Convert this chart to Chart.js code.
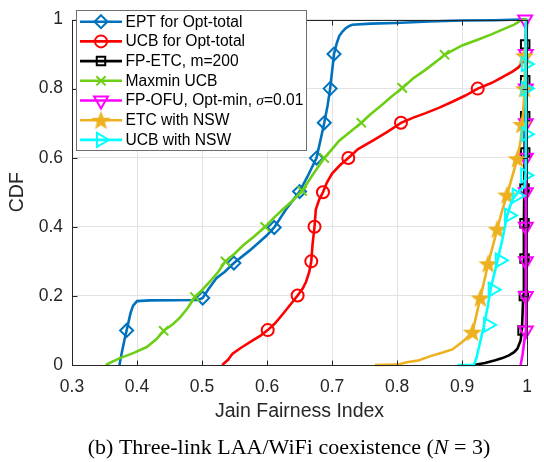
<!DOCTYPE html>
<html><head><meta charset="utf-8">
<script src="https://cdn.jsdelivr.net/npm/chart.js@4.4.0/dist/chart.umd.min.js"></script>
<style>html,body{margin:0;padding:0;background:#fff}#wrap{width:544px;height:462px;position:relative}</style>
</head><body><div id="wrap"><canvas id="c" width="544" height="462"></canvas></div>
<script>
// ---------- data ----------
const xTicks = [0.3, 0.4, 0.5, 0.6, 0.7, 0.8, 0.9, 1];
const yTicks = [0, 0.2, 0.4, 0.6, 0.8, 1];
const seriesNames = ['EPT for Opt-total', 'UCB for Opt-total', 'FP-ETC, m=200', 'Maxmin UCB',
  'FP-OFU, Opt-min, σ=0.01', 'ETC with NSW', 'UCB with NSW'];

const eptX = [0.373,0.377,0.381,0.384,0.387,0.390,0.394,0.400,0.420,0.494,0.501,0.510,0.522,0.535,0.549,0.573,0.599,0.611,0.629,0.650,0.662,0.676,0.683,0.688,0.693,0.697,0.700,0.703,0.707,0.711,0.716,0.721,0.726,0.731,0.760,0.798,0.849,0.900,0.950,0.990,1.000];
const eptY = [0.000,0.040,0.075,0.100,0.125,0.150,0.172,0.185,0.187,0.188,0.194,0.220,0.251,0.270,0.295,0.331,0.374,0.398,0.450,0.502,0.545,0.599,0.658,0.701,0.750,0.800,0.850,0.900,0.930,0.952,0.965,0.975,0.981,0.985,0.988,0.990,0.994,0.997,0.998,1.000,1.000];
const eptMX = [0.384,0.501,0.549,0.611,0.650,0.676,0.688,0.697,0.703];
const eptMY = [0.100,0.194,0.295,0.398,0.502,0.599,0.701,0.800,0.900];

const ucbX = [0.531,0.540,0.547,0.560,0.578,0.590,0.601,0.612,0.624,0.636,0.647,0.655,0.660,0.665,0.668,0.670,0.673,0.675,0.680,0.686,0.692,0.700,0.712,0.725,0.740,0.762,0.785,0.806,0.825,0.844,0.865,0.885,0.905,0.924,0.945,0.962,0.978,0.987,0.993,0.997,0.999,1.000];
const ucbY = [0.000,0.015,0.033,0.050,0.071,0.085,0.101,0.120,0.147,0.175,0.201,0.222,0.241,0.270,0.300,0.350,0.400,0.450,0.478,0.500,0.528,0.554,0.578,0.599,0.625,0.649,0.675,0.701,0.716,0.729,0.745,0.762,0.780,0.800,0.816,0.833,0.850,0.862,0.876,0.890,0.950,1.000];
const ucbMX = [0.601,0.647,0.668,0.673,0.686,0.725,0.806,0.924];
const ucbMY = [0.101,0.201,0.300,0.400,0.500,0.599,0.701,0.800];

const fpetcX = [0.918,0.935,0.951,0.962,0.972,0.980,0.985,0.990,0.992,0.994,0.995,0.996,0.997,0.998,1.000];
const fpetcY = [0.000,0.006,0.014,0.020,0.028,0.037,0.047,0.071,0.100,0.200,0.400,0.600,0.800,0.950,1.000];
const fpetcMX = [0.993,0.995,0.996,0.996,0.996,0.997,0.997,0.997,0.997];
const fpetcMY = [0.100,0.200,0.308,0.410,0.511,0.615,0.720,0.824,0.928];

const maxminX = [0.352,0.362,0.374,0.395,0.415,0.430,0.441,0.455,0.466,0.478,0.489,0.499,0.512,0.525,0.536,0.550,0.563,0.580,0.597,0.610,0.624,0.640,0.654,0.670,0.688,0.700,0.711,0.728,0.745,0.760,0.777,0.792,0.808,0.825,0.844,0.860,0.873,0.900,0.926,0.945,0.961,0.980,0.992,1.000];
const maxminY = [0.000,0.010,0.020,0.035,0.052,0.075,0.099,0.118,0.137,0.165,0.197,0.215,0.241,0.270,0.300,0.322,0.346,0.372,0.400,0.425,0.450,0.477,0.504,0.550,0.599,0.625,0.649,0.675,0.701,0.727,0.753,0.778,0.802,0.830,0.855,0.878,0.898,0.925,0.943,0.957,0.970,0.985,0.999,1.000];
const maxminMX = [0.441,0.489,0.536,0.597,0.654,0.688,0.745,0.808,0.873];
const maxminMY = [0.099,0.197,0.300,0.400,0.504,0.599,0.701,0.802,0.898];

const fpofuX = [0.990,0.993,0.995,0.997,0.998,0.998,1.000];
const fpofuY = [0.000,0.030,0.060,0.090,0.150,0.990,1.000];
const fpofuMX = [0.998,0.998,0.998,0.998,0.998,0.998,0.998,0.998,0.998,0.997];
const fpofuMY = [0.100,0.200,0.300,0.400,0.500,0.600,0.700,0.800,0.900,1.000];

const etcX = [0.766,0.800,0.815,0.834,0.850,0.870,0.885,0.903,0.916,0.922,0.928,0.934,0.940,0.947,0.954,0.961,0.969,0.977,0.985,0.990,0.993,0.996,0.997,0.999];
const etcY = [0.000,0.001,0.008,0.014,0.025,0.036,0.045,0.071,0.095,0.145,0.194,0.243,0.293,0.343,0.393,0.443,0.492,0.545,0.597,0.650,0.700,0.800,0.900,1.000];
const etcMX = [0.916,0.928,0.940,0.954,0.969,0.985,0.992,0.996,0.996];
const etcMY = [0.095,0.194,0.293,0.393,0.492,0.597,0.696,0.800,0.895];

const ucbnX = [0.893,0.918,0.922,0.926,0.933,0.939,0.944,0.949,0.954,0.962,0.969,0.977,0.984,0.990,0.996,0.998,0.998,1.000];
const ucbnY = [0.000,0.000,0.020,0.052,0.109,0.166,0.222,0.260,0.298,0.364,0.431,0.478,0.495,0.507,0.516,0.560,0.990,1.000];
const ucbnMX = [0.940,0.947,0.958,0.972,0.984,0.997,0.998,0.998,0.998];
const ucbnMY = [0.116,0.218,0.303,0.433,0.490,0.549,0.668,0.800,0.871];

// ---------- styling ----------
const SANS = '"Liberation Sans", Arial, Helvetica, sans-serif';
const SERIF = '"Liberation Serif", "Times New Roman", serif';
const AX = '#262626';

function makeStar(color, R) {
  const s = Math.ceil(R * 2 + 4);
  const c = document.createElement('canvas'); c.width = s; c.height = s;
  const g = c.getContext('2d');
  g.translate(s / 2, s / 2 + 0.8);
  g.beginPath();
  for (let k = 0; k < 10; k++) {
    const r = k % 2 ? R * 0.42 : R;
    const a = -Math.PI / 2 + k * Math.PI / 5;
    g.lineTo(r * Math.cos(a), r * Math.sin(a));
  }
  g.closePath(); g.fillStyle = color; g.fill();
  g.strokeStyle = color; g.lineWidth = 1.2; g.stroke();
  return c;
}
const starImg = makeStar('#EDB120', 8.5);

const series = [
  {x: eptX, y: eptY, mx: eptMX, my: eptMY, color: '#0072BD', style: 'rectRot', r: 6.5, rot: 0},
  {x: ucbX, y: ucbY, mx: ucbMX, my: ucbMY, color: '#FF0000', style: 'circle', r: 6, rot: 0},
  {x: fpetcX, y: fpetcY, mx: fpetcMX, my: fpetcMY, color: '#000000', style: 'rect', r: 6, rot: 0},
  {x: maxminX, y: maxminY, mx: maxminMX, my: maxminMY, color: '#6CCF16', style: 'crossRot', r: 6.5, rot: 0},
  {x: fpofuX, y: fpofuY, mx: fpofuMX, my: fpofuMY, color: '#FF00FF', style: 'triangle', r: 8, rot: 180},
  {x: etcX, y: etcY, mx: etcMX, my: etcMY, color: '#EDB120', style: starImg, r: 8, rot: 0},
  {x: ucbnX, y: ucbnY, mx: ucbnMX, my: ucbnMY, color: '#00FFFF', style: 'triangle', r: 8, rot: 90}
];

const datasets = [];
series.forEach((s, i) => {
  datasets.push({
    label: seriesNames[i],
    data: s.x.map((v, k) => ({x: v, y: s.y[k]})),
    showLine: true, borderColor: s.color, borderWidth: 2.6,
    pointRadius: 0, pointHoverRadius: 0, fill: false, tension: 0,
    order: 100 - 2 * i, clip: false
  });
  datasets.push({
    label: seriesNames[i] + ' markers',
    data: s.mx.map((v, k) => ({x: v, y: s.my[k]})),
    showLine: false, pointStyle: s.style, pointRadius: s.r, pointHoverRadius: s.r,
    pointRotation: s.rot, pointBorderColor: s.color, pointBackgroundColor: 'rgba(0,0,0,0)',
    pointBorderWidth: 2, order: 100 - 2 * i - 1, clip: false
  });
});

function fmt(v) { return String(Math.round(v * 10) / 10); }

// own marker drawing for the legend
function drawMarker(ctx, s, x, y) {
  ctx.save();
  ctx.strokeStyle = s.color; ctx.lineWidth = 2;
  const r = s.r;
  ctx.beginPath();
  if (s.style === 'circle') { ctx.arc(x, y, r, 0, Math.PI * 2); ctx.stroke(); }
  else if (s.style === 'rectRot') { ctx.moveTo(x, y - r); ctx.lineTo(x + r, y); ctx.lineTo(x, y + r); ctx.lineTo(x - r, y); ctx.closePath(); ctx.stroke(); }
  else if (s.style === 'rect') { const h = r * Math.SQRT1_2; ctx.rect(x - h, y - h, 2 * h, 2 * h); ctx.stroke(); }
  else if (s.style === 'crossRot') { const h = r * Math.SQRT1_2; ctx.moveTo(x - h, y - h); ctx.lineTo(x + h, y + h); ctx.moveTo(x + h, y - h); ctx.lineTo(x - h, y + h); ctx.stroke(); }
  else if (s.style === 'triangle') {
    let a = s.rot * Math.PI / 180;
    for (let k = 0; k < 3; k++) { ctx.lineTo(x + Math.sin(a) * r, y - Math.cos(a) * r); a += 2 * Math.PI / 3; }
    ctx.closePath(); ctx.stroke();
  } else { ctx.drawImage(s.style, x - s.style.width / 2, y - s.style.height / 2); }
  ctx.restore();
}

// parts: [text, italic, family]
function drawRich(ctx, parts, x, y, size) {
  let cx = x;
  parts.forEach(p => {
    ctx.font = (p[1] ? 'italic ' : '') + size + 'px ' + p[2];
    ctx.fillText(p[0], cx, y);
    cx += ctx.measureText(p[0]).width;
  });
  return cx - x;
}
function measureRich(ctx, parts, size) {
  let w = 0;
  parts.forEach(p => { ctx.font = (p[1] ? 'italic ' : '') + size + 'px ' + p[2]; w += ctx.measureText(p[0]).width; });
  return w;
}

const framePlugin = {
  id: 'frame',
  afterDatasetsDraw(chart) {
    const ctx = chart.ctx;
    const xs = chart.scales.x, ys = chart.scales.y;
    const L = Math.round(xs.getPixelForValue(0.3)) + 0.5, R = Math.round(xs.getPixelForValue(1)) + 0.5;
    const T = Math.round(ys.getPixelForValue(1)) + 0.5, B = Math.round(ys.getPixelForValue(0)) + 0.5;
    ctx.save();
    ctx.strokeStyle = AX; ctx.lineWidth = 1;
    ctx.beginPath();
    xTicks.forEach(v => {
      const p = Math.round(xs.getPixelForValue(v)) + 0.5;
      ctx.moveTo(p, B); ctx.lineTo(p, B - 5); ctx.moveTo(p, T); ctx.lineTo(p, T + 5);
    });
    yTicks.forEach(v => {
      const p = Math.round(ys.getPixelForValue(v)) + 0.5;
      ctx.moveTo(L, p); ctx.lineTo(L + 5, p); ctx.moveTo(R, p); ctx.lineTo(R - 5, p);
    });
    ctx.stroke();
    ctx.strokeRect(L, T, R - L, B - T);
    ctx.restore();
  },
  afterDraw(chart) {
    const ctx = chart.ctx;
    ctx.save();
    // legend
    const bx = 76.5, by = 10.5, bw = 230, bh = 140;
    ctx.fillStyle = '#fff'; ctx.fillRect(bx, by, bw, bh);
    ctx.strokeStyle = '#6e6e6e'; ctx.lineWidth = 1; ctx.strokeRect(bx, by, bw, bh);
    const rowY0 = 21.7, rowH = 19.7;
    series.forEach((s, i) => {
      const y = rowY0 + i * rowH;
      ctx.strokeStyle = s.color; ctx.lineWidth = 2.6;
      ctx.beginPath(); ctx.moveTo(80, y); ctx.lineTo(122, y); ctx.stroke();
      drawMarker(ctx, s, 101, y);
      ctx.fillStyle = '#000'; ctx.textBaseline = 'middle'; ctx.textAlign = 'left';
      const nm = seriesNames[i];
      const si = nm.indexOf('σ');
      const parts = si >= 0
        ? [[nm.slice(0, si), false, SANS], ['σ', true, SERIF], [nm.slice(si + 1), false, SANS]]
        : [[nm, false, SANS]];
      drawRich(ctx, parts, 125.5, y + 0.5, 15.6);
    });
    // caption
    const cap = [['(b) Three-link LAA/WiFi coexistence (', false, SERIF], ['N', true, SERIF], [' = 3)', false, SERIF]];
    ctx.fillStyle = '#000'; ctx.textBaseline = 'middle'; ctx.textAlign = 'left';
    const w = measureRich(ctx, cap, 22);
    drawRich(ctx, cap, 289 - w / 2, 448, 22);
    ctx.restore();
  }
};

new Chart(document.getElementById('c'), {
  type: 'scatter',
  data: {datasets},
  options: {
    responsive: false, animation: false, devicePixelRatio: 1,
    layout: {padding: {left: 0, right: 16, top: 13, bottom: 37}},
    plugins: {legend: {display: false}, tooltip: {enabled: false}},
    events: [],
    scales: {
      x: {
        type: 'linear', min: 0.3, max: 1,
        afterBuildTicks: s => { s.ticks = xTicks.map(v => ({value: v})); },
        afterFit: s => { s.height = 60; },
        ticks: {callback: fmt, font: {family: SANS, size: 17.5}, color: AX, padding: 12, maxRotation: 0, autoSkip: false},
        grid: {color: '#e3e3e3', lineWidth: 1, drawTicks: false},
        border: {display: false},
        title: {display: true, text: 'Jain Fairness Index', font: {family: SANS, size: 19.5}, color: AX, padding: {top: 0, bottom: 2}}
      },
      y: {
        type: 'linear', min: 0, max: 1,
        afterBuildTicks: s => { s.ticks = yTicks.map(v => ({value: v})); },
        afterFit: s => { s.width = 72; },
        ticks: {callback: fmt, font: {family: SANS, size: 17.5}, color: AX, padding: 9, autoSkip: false},
        grid: {color: '#e3e3e3', lineWidth: 1, drawTicks: false},
        border: {display: false},
        title: {display: true, text: 'CDF', font: {family: SANS, size: 19.5}, color: AX, padding: {top: 6, bottom: 0}}
      }
    }
  },
  plugins: [framePlugin]
});
</script>
</body></html>
